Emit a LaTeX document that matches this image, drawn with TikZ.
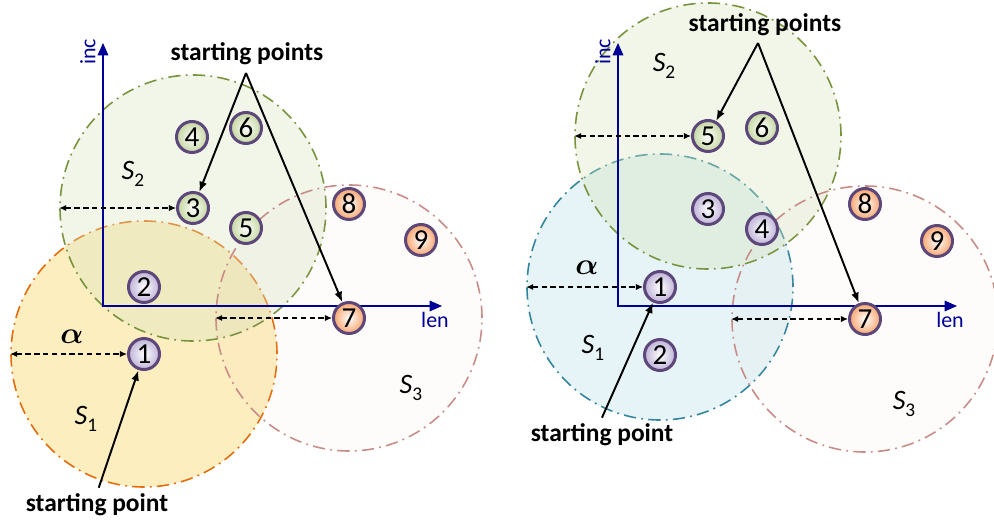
\documentclass[tikz,border=0pt]{standalone}
\usepackage{amsmath, amssymb}
\usepackage{fontspec}
\setmainfont{Carlito}
\usepackage{xcolor}
\usepackage{tikz}
\usetikzlibrary{positioning, arrows.meta, calc}

\definecolor{axisblue}{RGB}{0,0,150}
\definecolor{ptborder}{RGB}{92,70,122}
\definecolor{ptpurplefill}{RGB}{190,178,215}
\definecolor{ptgreenfill}{RGB}{196,214,160}
\definecolor{ptorangefill}{RGB}{247,165,110}
\definecolor{yellowset}{RGB}{252,226,150}
\definecolor{yellowline}{RGB}{228,108,10}
\definecolor{greenset}{RGB}{215,228,189}
\definecolor{greenline}{RGB}{119,147,60}
\definecolor{roseset}{RGB}{230,190,185}
\definecolor{roseline}{RGB}{200,140,135}
\definecolor{blueset}{RGB}{183,222,232}
\definecolor{blueline}{RGB}{49,133,156}

\newcommand{\setname}[1]{\textit{S}\raisebox{-0.5ex}{\fontsize{11}{11}\selectfont #1}}

\begin{document}
\begin{tikzpicture}[
    setcirc/.style={
        circle,
        inner sep=0pt,
        minimum size=5.32cm,
        line width=0.9pt,
        dash pattern=on 7pt off 3pt on 1pt off 3pt
    },
    ptnode/.style={
        circle,
        draw=ptborder,
        line width=1.7pt,
        inner sep=0pt,
        minimum size=0.62cm,
        inner color=white,
        font=\fontsize{16.5}{16.5}\selectfont
    },
    ptpurple/.style={ptnode, outer color=ptpurplefill},
    ptgreen/.style={ptnode, outer color=ptgreenfill},
    ptorange/.style={ptnode, outer color=ptorangefill},
    axis/.style={{Triangle[length=7pt,width=6pt]}-{Triangle[length=7pt,width=6pt]}, axisblue, line width=0.9pt},
    axlabel/.style={text=axisblue, font=\fontsize{12.5}{12.5}\selectfont},
    gap/.style={{Latex[length=4pt,width=3.5pt]}-{Latex[length=4pt,width=3.5pt]}, densely dashed, line width=0.6pt},
    ptr/.style={-{Latex[length=6pt,width=4.5pt]}, line width=1.1pt},
    callout/.style={font=\fontsize{14.5}{16}\selectfont\bfseries},
    setlabel/.style={font=\fontsize{16}{16}\selectfont}
]
\useasboundingbox (0,0) rectangle (19.88,10.5);

% left: sets
\node[setcirc, draw=yellowline, fill=yellowset, fill opacity=0.6] (S1L) at (2.88,3.42) {};
\node[setcirc, draw=greenline, fill=greenset, fill opacity=0.35] (S2L) at (3.86,6.34) {};
\node[setcirc, draw=roseline, fill=roseset, fill opacity=0.05] (S3L) at (6.98,4.14) {};

% left: axes
\coordinate (oL) at (2.06,4.38);
\coordinate (incL) at (2.06,9.64);
\coordinate (lenL) at (8.84,4.38);
\draw[axis] (incL) -- (oL) -- (lenL);
\node[axlabel, rotate=90] (incLabL) at (1.76,9.46) {inc};
\node[axlabel] (lenLabL) at (8.70,4.10) {len};

\node[ptpurple] (p1L) at (S1L) {1};
\node[ptpurple] (p2L) at (2.88,4.76) {2};
\node[ptgreen] (p3L) at (S2L) {3};
\node[ptgreen] (p4L) at (3.84,7.76) {4};
\node[ptgreen] (p5L) at (4.92,5.94) {5};
\node[ptgreen] (p6L) at (4.92,7.94) {6};
\node[ptorange] (p7L) at (S3L) {7};
\node[ptorange] (p8L) at (6.98,6.42) {8};
\node[ptorange] (p9L) at (8.42,5.70) {9};

\draw[gap] (S1L.west) -- (p1L.west);
\draw[gap] (S2L.west) -- (p3L.west);
\draw[gap] (S3L.west) -- (p7L.west);

\node[font=\fontsize{17}{17}\selectfont] (alphaL) at (1.44,3.76) {$\boldsymbol{\alpha}$};
\node[setlabel] (nameS1L) at (1.72,2.12) {\setname{1}};
\node[setlabel] (nameS2L) at (2.66,7.02) {\setname{2}};
\node[setlabel] (nameS3L) at (8.22,2.74) {\setname{3}};

\node[callout] (spsL) at (4.94,9.42) {starting points};
\node[callout] (spL) at (1.94,0.40) {starting point};
\coordinate (apexL) at (4.92,9.04);
\draw[ptr] (apexL) -- (p3L);
\draw[ptr] (apexL) -- (p7L);
\draw[ptr] ([xshift=1pt]spL.north) -- (p1L);

% right: sets
\node[setcirc, draw=blueline, fill=blueset, fill opacity=0.35] (S1R) at (13.20,4.76) {};
\node[setcirc, draw=greenline, fill=greenset, fill opacity=0.35] (S2R) at (14.16,7.78) {};
\node[setcirc, draw=roseline, fill=roseset, fill opacity=0.05] (S3R) at (17.30,4.12) {};

% right: axes
\coordinate (oR) at (12.36,4.38);
\coordinate (incR) at (12.36,9.64);
\coordinate (lenR) at (19.14,4.38);
\draw[axis] (incR) -- (oR) -- (lenR);
\node[axlabel, rotate=90] (incLabR) at (12.06,9.46) {inc};
\node[axlabel] (lenLabR) at (19.00,4.10) {len};

\node[ptpurple] (p1R) at (S1R) {1};
\node[ptpurple] (p2R) at (13.20,3.40) {2};
\node[ptpurple] (p3R) at (14.16,6.32) {3};
\node[ptpurple] (p4R) at (15.24,5.92) {4};
\node[ptgreen] (p5R) at (S2R) {5};
\node[ptgreen] (p6R) at (15.24,7.94) {6};
\node[ptorange] (p7R) at (S3R) {7};
\node[ptorange] (p8R) at (17.30,6.42) {8};
\node[ptorange] (p9R) at (18.74,5.68) {9};

\draw[gap] (S1R.west) -- (p1R.west);
\draw[gap] (S2R.west) -- (p5R.west);
\draw[gap] (S3R.west) -- (p7R.west);

\node[font=\fontsize{17}{17}\selectfont] (alphaR) at (11.74,5.14) {$\boldsymbol{\alpha}$};
\node[setlabel] (nameS1R) at (11.86,3.54) {\setname{1}};
\node[setlabel] (nameS2R) at (13.28,9.18) {\setname{2}};
\node[setlabel] (nameS3R) at (18.08,2.42) {\setname{3}};

\node[callout] (spsR) at (15.30,10.00) {starting points};
\node[callout] (spR) at (12.04,1.80) {starting point};
\coordinate (apexR) at (15.16,9.64);
\draw[ptr] (apexR) -- (p5R);
\draw[ptr] (apexR) -- (p7R);
\draw[ptr] (spR.north) -- (p1R);

\end{tikzpicture}
\end{document}
